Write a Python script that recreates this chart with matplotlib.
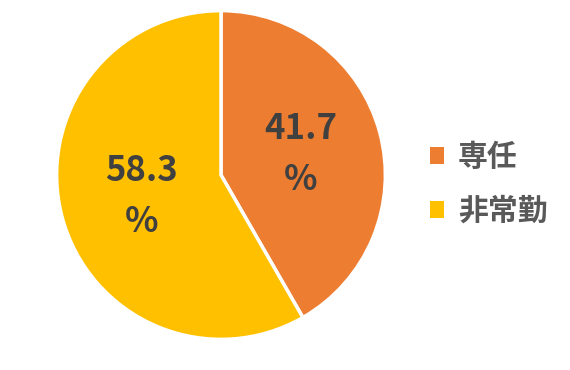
import matplotlib
matplotlib.use("Agg")
import matplotlib.pyplot as plt

plt.rcParams['font.family'] = ['Noto Sans CJK JP', 'DejaVu Sans']

categories = ["専任", "非常勤"]
values = [41.7, 58.3]
colors = ["#ED7D31", "#FFC000"]

W, H = 570, 370
fig = plt.figure(figsize=(W / 100, H / 100), dpi=100)
cx, cy, r = 221, 175, 166
ax = fig.add_axes([(cx - r) / W, (H - cy - r) / H, 2 * r / W, 2 * r / H])

wedges, texts, autotexts = ax.pie(
    values, colors=colors, startangle=90, counterclock=False,
    autopct=lambda p: f"{p:.1f}\n%", pctdistance=0.5,
    wedgeprops=dict(edgecolor="white", linewidth=2.5),
    textprops=dict(color="#404040", fontsize=25, fontweight="bold", linespacing=1.55),
    radius=1.0,
)
ax.set_xlim(-1.01, 1.01)
ax.set_ylim(-1.01, 1.01)
ax.set_aspect("equal")

leg = fig.legend(
    wedges, categories, loc="center left",
    bbox_to_anchor=(430 / W, 1 - 184 / H), frameon=False,
    handlelength=0.48, handleheight=0.48, handletextpad=0.45,
    labelspacing=0.8, borderaxespad=0, borderpad=0,
    prop=dict(size=21.5, weight="bold"),
)
for t in leg.get_texts():
    t.set_color("#595959")
for h in leg.legend_handles:
    h.set_edgecolor("none")

fig.savefig("out.png", dpi=100)
